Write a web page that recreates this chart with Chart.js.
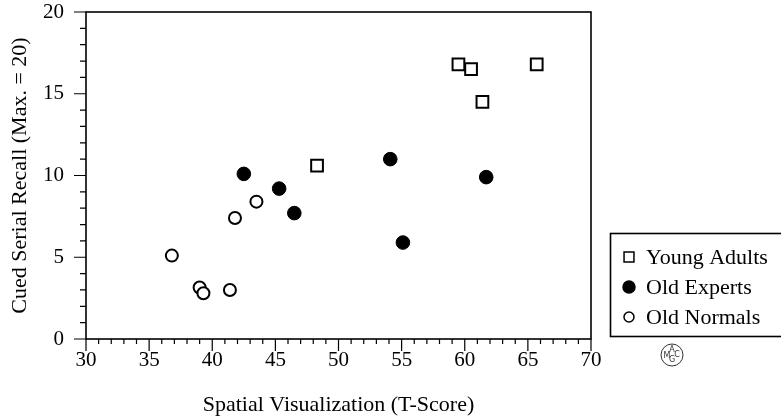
<!DOCTYPE html>
<html lang="en">
<head>
    <meta charset="UTF-8">
    <title>Cued Serial Recall vs Spatial Visualization</title>
    <script src="https://cdn.jsdelivr.net/npm/chart.js"></script>
    <style>
        html, body { margin: 0; padding: 0; background: #fff; }
        .chart-container { position: relative; width: 781px; height: 418px; }
    </style>
</head>
<body>
    <div class="chart-container">
        <canvas id="recallChart"></canvas>
    </div>

    <script>
        // Data
        const groupNames = ['Young Adults', 'Old Experts', 'Old Normals'];
        const youngX = [48.3, 59.5, 60.5, 61.4, 65.7];
        const youngY = [10.6, 16.8, 16.5, 14.5, 16.8];
        const expertX = [42.5, 45.3, 46.5, 54.1, 55.1, 61.7];
        const expertY = [10.1, 9.2, 7.7, 11.0, 5.9, 9.9];
        const normalX = [36.8, 39.0, 39.3, 41.4, 41.8, 43.5];
        const normalY = [5.1, 3.15, 2.8, 3.0, 7.4, 8.4];
        const xTicks = [30, 35, 40, 45, 50, 55, 60, 65, 70];
        const yTicks = [0, 5, 10, 15, 20];

        const toPoints = (xs, ys) => xs.map((x, i) => ({ x: x, y: ys[i] }));
        const serif = 'Liberation Serif';

        // Frame, major/minor ticks
        const framePlugin = {
            id: 'frame',
            afterDraw(chart) {
                const ctx = chart.ctx;
                const a = chart.chartArea;
                const xs = chart.scales.x, ys = chart.scales.y;
                ctx.save();
                ctx.strokeStyle = '#000';
                ctx.lineWidth = 1.6;
                ctx.strokeRect(a.left, a.top, a.right - a.left, a.bottom - a.top);
                ctx.lineWidth = 1.2;
                ctx.beginPath();
                for (let v = 30; v <= 70; v++) {
                    const px = xs.getPixelForValue(v);
                    const len = v % 5 === 0 ? 12 : 5;
                    ctx.moveTo(px, a.bottom);
                    ctx.lineTo(px, a.bottom + len);
                }
                for (let v = 0; v <= 20; v++) {
                    const py = ys.getPixelForValue(v);
                    const len = v % 5 === 0 ? 12 : 6;
                    ctx.moveTo(a.left, py);
                    ctx.lineTo(a.left - len, py);
                }
                ctx.stroke();
                ctx.restore();
            }
        };

        // Boxed legend at lower right, outside the plot
        const legendPlugin = {
            id: 'boxLegend',
            afterDraw(chart) {
                const ctx = chart.ctx;
                ctx.save();
                ctx.strokeStyle = '#000';
                ctx.lineWidth = 1.6;
                ctx.strokeRect(610.5, 233.5, 180, 103);
                ctx.font = '22px "' + serif + '"';
                ctx.textBaseline = 'middle';
                const rows = [257, 287, 317];
                const sizes = [7, 6, 5];
                chart.data.datasets.forEach((ds, i) => {
                    const opts = { pointStyle: ds.pointStyle, radius: sizes[i], borderWidth: 1.5 };
                    ctx.strokeStyle = ds.borderColor;
                    ctx.fillStyle = ds.backgroundColor;
                    ctx.lineWidth = 1.5;
                    Chart.helpers.drawPoint(ctx, opts, 629, rows[i]);
                    ctx.fillStyle = '#000';
                    ctx.fillText(ds.label, 646, rows[i] + 1);
                });
                ctx.restore();
            }
        };

        // Small circled publisher mark
        const markPlugin = {
            id: 'mark',
            afterDraw(chart) {
                const ctx = chart.ctx;
                const cx = 672, cy = 355;
                ctx.save();
                ctx.strokeStyle = '#333';
                ctx.lineWidth = 1;
                ctx.beginPath();
                ctx.arc(cx, cy, 11, 0, Math.PI * 2);
                ctx.stroke();
                ctx.fillStyle = '#333';
                ctx.font = '8px "DejaVu Sans"';
                ctx.textAlign = 'center';
                ctx.textBaseline = 'middle';
                ctx.fillText('A', cx, cy - 5);
                ctx.fillText('M', cx - 5, cy + 1);
                ctx.fillText('C', cx + 5, cy);
                ctx.fillText('G', cx, cy + 5);
                ctx.restore();
            }
        };

        const ctx = document.getElementById('recallChart').getContext('2d');
        const recallChart = new Chart(ctx, {
            type: 'scatter',
            data: {
                datasets: [{
                    label: groupNames[0],
                    data: toPoints(youngX, youngY),
                    pointStyle: 'rect',
                    pointRadius: 8.3,
                    borderColor: '#000',
                    backgroundColor: '#fff',
                    borderWidth: 2
                }, {
                    label: groupNames[1],
                    data: toPoints(expertX, expertY),
                    pointStyle: 'circle',
                    pointRadius: 6.8,
                    borderColor: '#000',
                    backgroundColor: '#000',
                    borderWidth: 1
                }, {
                    label: groupNames[2],
                    data: toPoints(normalX, normalY),
                    pointStyle: 'circle',
                    pointRadius: 6,
                    borderColor: '#000',
                    backgroundColor: '#fff',
                    borderWidth: 2
                }]
            },
            options: {
                responsive: true,
                maintainAspectRatio: false,
                animation: false,
                layout: { padding: { top: 12, right: 190, left: 0, bottom: 0 } },
                plugins: {
                    legend: { display: false },
                    tooltip: { enabled: false }
                },
                scales: {
                    x: {
                        type: 'linear',
                        min: 30,
                        max: 70,
                        afterBuildTicks: (scale) => { scale.ticks = xTicks.map(v => ({ value: v })); },
                        afterFit: (scale) => {
                            scale.height = 79;
                            scale.paddingLeft = 0;
                            scale.paddingRight = 0;
                        },
                        grid: { display: false, drawTicks: false },
                        border: { display: false },
                        ticks: {
                            color: '#000',
                            padding: 9,
                            maxRotation: 0,
                            font: { family: serif, size: 21 }
                        },
                        title: {
                            display: true,
                            text: 'Spatial Visualization (T-Score)',
                            color: '#000',
                            padding: { top: 6, bottom: 0 },
                            font: { family: serif, size: 22 }
                        }
                    },
                    y: {
                        type: 'linear',
                        min: 0,
                        max: 20,
                        afterBuildTicks: (scale) => { scale.ticks = yTicks.map(v => ({ value: v })); },
                        afterFit: (scale) => {
                            scale.width = 86;
                            scale.paddingTop = 0;
                            scale.paddingBottom = 0;
                        },
                        grid: { display: false, drawTicks: false },
                        border: { display: false },
                        ticks: {
                            color: '#000',
                            padding: 22,
                            font: { family: serif, size: 21 }
                        },
                        title: {
                            display: true,
                            text: 'Cued Serial Recall (Max. = 20)',
                            color: '#000',
                            padding: { top: 7, bottom: 4 },
                            font: { family: serif, size: 22 }
                        }
                    }
                }
            },
            plugins: [framePlugin, legendPlugin, markPlugin]
        });
    </script>
</body>
</html>
